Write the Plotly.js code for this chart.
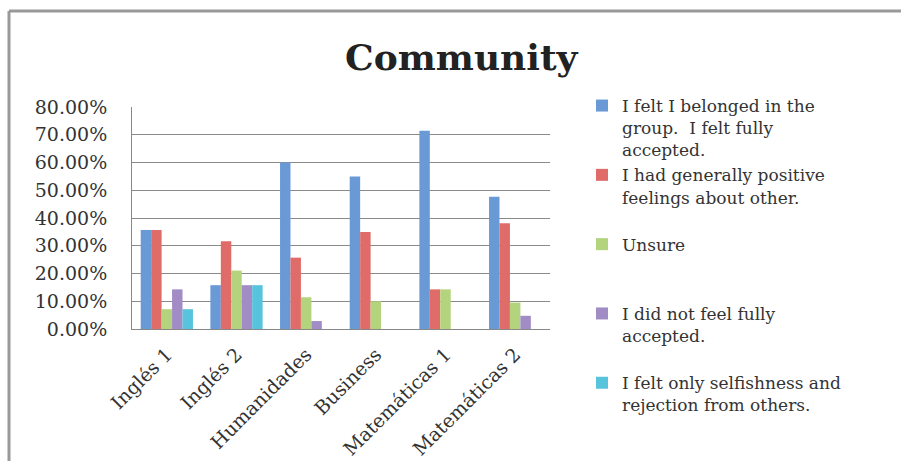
<!DOCTYPE html>
<html><head><meta charset="utf-8">
<script src="https://cdn.plot.ly/plotly-3.0.1.min.js"></script>
<style>html,body{margin:0;padding:0;background:#fff}#chart{width:901px;height:461px}</style>
</head><body><div id="chart"></div>
<script>
const categories = ['Inglés 1','Inglés 2','Humanidades','Business','Matemáticas 1','Matemáticas 2'];
const seriesNames = [
  'I felt I belonged in the<br>group.  I felt fully<br>accepted.',
  'I had generally positive<br>feelings about other.<br> ',
  'Unsure<br> <br> ',
  'I did not feel fully<br>accepted.<br> ',
  'I felt only selfishness and<br>rejection from others.'
];
const belonged    = [0.3571, 0.1579, 0.6000, 0.5500, 0.7143, 0.4762];
const positive    = [0.3571, 0.3158, 0.2571, 0.3500, 0.1429, 0.3810];
const unsure      = [0.0714, 0.2105, 0.1143, 0.1000, 0.1429, 0.0952];
const notAccepted = [0.1429, 0.1579, 0.0286, 0, 0, 0.0476];
const rejection   = [0.0714, 0.1579, 0, 0, 0, 0];
const seriesValues = [belonged, positive, unsure, notAccepted, rejection];
const colors = ['#6a9ad6', '#e06c69', '#b3d37c', '#a28cc6', '#58c3dd'];

const font = 'DejaVu Serif, serif';
const traces = seriesValues.map((vals, i) => ({
  type: 'bar', x: categories, y: vals, name: seriesNames[i],
  legendgroup: 'g' + i,
  marker: {color: colors[i]}, hoverinfo: 'skip'
}));

const px = (p) => (p - 132) / 418;
const py = (p) => (329 - p) / 222;

const layout = {
  width: 901, height: 461,
  margin: {l: 132, r: 351, t: 107, b: 132},
  paper_bgcolor: '#fff', plot_bgcolor: '#fff',
  font: {family: font, color: '#333', size: 18},
  title: {text: '<b>Community</b>', font: {family: font, size: 36, color: '#222'},
          x: 0.512, xref: 'container', xanchor: 'center', y: 1 - 57/461, yanchor: 'middle'},
  barmode: 'group', bargap: 0.25, bargroupgap: 0,
  xaxis: {type: 'category', tickangle: -45, tickfont: {size: 19, family: font, color: '#333'},
          showline: true, linecolor: '#888', linewidth: 1, showgrid: false, automargin: false, ticks: '',
          ticklabelstandoff: 6},
  yaxis: {range: [0, 0.8], dtick: 0.1, tickformat: '.2%', tickfont: {size: 19, family: font, color: '#333'},
          showgrid: true, gridcolor: '#8a8a8a', gridwidth: 1, showline: true, linecolor: '#888', linewidth: 1,
          zeroline: false, ticklabelstandoff: 20, automargin: false, fixedrange: true},
  showlegend: true,
  legend: {x: px(582), xanchor: 'left', y: py(88), yanchor: 'top', valign: 'top',
           font: {size: 17, family: font, color: '#333'}, tracegroupgap: 0, itemwidth: 30,
           maxheight: 460, bgcolor: 'rgba(0,0,0,0)'},
  shapes: [
    {type: 'line', xref: 'paper', yref: 'paper', x0: px(9), x1: px(905), y0: py(11), y1: py(11), line: {color: '#999', width: 3}},
    {type: 'line', xref: 'paper', yref: 'paper', x0: px(9), x1: px(9), y0: py(11), y1: py(470), line: {color: '#999', width: 3}}
  ]
};
Plotly.newPlot('chart', traces, layout, {staticPlot: true});
</script></body></html>
